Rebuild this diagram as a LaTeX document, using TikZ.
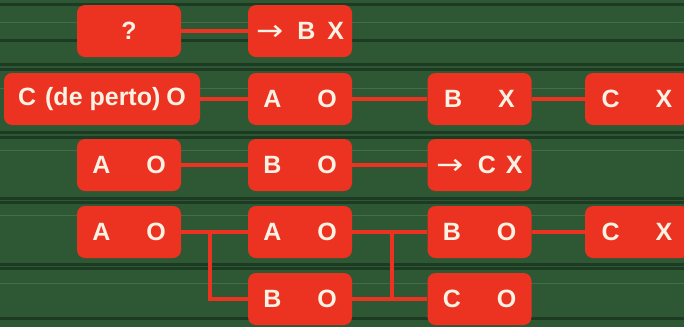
\documentclass[tikz,border=0pt]{standalone}
\usepackage{fontspec}
\setmainfont{Liberation Sans}
\newfontfamily\arrowfont{DejaVu Sans}
\usetikzlibrary{backgrounds}
\definecolor{hedge}{RGB}{46,88,52}
\definecolor{hedgedark}{RGB}{18,38,22}
\definecolor{hedgelight}{RGB}{110,150,110}
\definecolor{boxred}{RGB}{236,50,32}
\definecolor{boxtext}{RGB}{252,242,228}
\newcommand{\pairtxt}[2]{#1\hspace{36pt}#2}
\newcommand{\arr}{{\arrowfont\mdseries\raisebox{-1pt}[0pt][0pt]{\scalebox{1.3}[1.15]{→}}}\hspace{14pt}}
\tikzset{
  box/.style={fill=boxred, rounded corners=8pt, minimum width=104pt, minimum height=52pt,
    inner sep=0pt, text=boxtext, font=\bfseries\fontsize{25}{25}\selectfont},
  link/.style={draw=boxred, line width=4pt},
  stripe/.style={draw=hedgedark, line width=3pt, opacity=0.6},
  glint/.style={draw=hedgelight, line width=1pt, opacity=0.35}
}
\begin{document}
\begin{tikzpicture}[x=1pt,y=-1pt]
\useasboundingbox (0,0) rectangle (684,327);
% nodes
\node[box] (q)  at (129,31) {?};
\node[box] (bx1) at (300,31) {\arr B\hspace{12pt}X};
\node[box, minimum width=196pt] (cp) at (102,99) {C\hspace{9pt}(de perto)\hspace{6pt}O};
\node[box] (ao2) at (300,99) {\pairtxt{A}{O}};
\node[box] (bx2) at (479.5,99) {\pairtxt{B}{X}};
\node[box] (cx2) at (637,99) {\pairtxt{C}{X}};
\node[box] (ao3) at (129,165) {\pairtxt{A}{O}};
\node[box] (bo3) at (300,165) {\pairtxt{B}{O}};
\node[box] (cx3) at (479.5,165) {\arr C\hspace{10pt}X};
\node[box] (ao41) at (129,232) {\pairtxt{A}{O}};
\node[box] (ao42) at (300,232) {\pairtxt{A}{O}};
\node[box] (bo43) at (479.5,232) {\pairtxt{B}{O}};
\node[box] (cx44) at (637,232) {\pairtxt{C}{X}};
\node[box] (bo52) at (300,299) {\pairtxt{B}{O}};
\node[box] (co53) at (479.5,299) {\pairtxt{C}{O}};
\coordinate (j1) at (210,232);
\coordinate (j2) at (392,232);
\begin{pgfonlayer}{background}
  \fill[hedge] (0,0) rectangle (684,327);
  \foreach \yy in {4,40,64,69,132,137,198,202,264,268,318}
    \draw[stripe] (0,\yy) -- (684,\yy);
  \foreach \yy in {22,88,150,215,283}
    \draw[glint] (0,\yy) -- (684,\yy);
  \draw[link] (q) -- (bx1);
  \draw[link] (cp) -- (ao2);
  \draw[link] (ao2) -- (bx2);
  \draw[link] (bx2) -- (cx2);
  \draw[link] (ao3) -- (bo3);
  \draw[link] (bo3) -- (cx3);
  \draw[link] (ao41) -- (ao42);
  \draw[link] (j1) |- (bo52.west);
  \draw[link] (ao42) -- (bo43);
  \draw[link] (bo52) -- (co53);
  \draw[link] (j2) -- (j2 |- co53);
  \draw[link] (bo43) -- (cx44);
\end{pgfonlayer}
\end{tikzpicture}
\end{document}
